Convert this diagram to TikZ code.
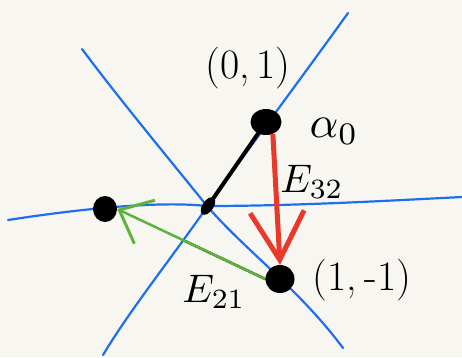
\documentclass[tikz,border=0pt]{standalone}
\usetikzlibrary{arrows.meta,shapes.geometric,calc}
\definecolor{paper}{HTML}{F8F6F1}
\definecolor{bluel}{HTML}{1E6FF0}
\definecolor{redarr}{HTML}{E8392B}
\definecolor{greenarr}{HTML}{5DB43C}
\tikzset{
  axisline/.style={bluel, line width=2.2bp, line cap=round},
  dotnode/.style={ellipse, fill=black, draw=none, inner sep=0pt},
  lbl/.style={inner sep=0pt, font=\fontsize{42}{46}\selectfont},
  elbl/.style={inner sep=0pt},
}
\begin{document}
\begin{tikzpicture}[x=1bp,y=-1bp]
\fill[paper] (0,0) rectangle (462,357);
\useasboundingbox (0,0) rectangle (462,357);
% blue lines
\draw[axisline] (82,49) .. controls (120,100) and (170,160) .. (207,206)
   .. controls (245,250) and (300,290) .. (343,348);
\draw[axisline] (348,13) .. controls (300,80) and (240,160) .. (207,207)
   .. controls (170,260) and (130,310) .. (103,355);
\draw[axisline] (8,220) .. controls (60,212) and (150,200) .. (207,206)
   .. controls (300,206) and (400,200) .. (462,197);
% dots
\node[dotnode, minimum width=20bp, minimum height=11bp, rotate=55] (ctr) at (208,206) {};
\node[dotnode, minimum width=31bp, minimum height=26bp] (top) at (266,122) {};
\node[dotnode, minimum width=24bp, minimum height=26bp] (left) at (105,209) {};
\node[dotnode, minimum width=29bp, minimum height=28bp] (bot) at (280,279) {};
% black segment
\draw[black, line width=4bp, line cap=round] (ctr) -- (top);
% black shadow along green
\draw[black, line width=2.5bp, line cap=round] (bot.west) -- ($(bot.west)!0.55!(left.east)$);
% red arrow
\draw[redarr, line width=5bp, -{Straight Barb[length=48bp, width=54bp, line width=5bp]}]
  (top.300) -- (bot.north);
% green arrow
\draw[greenarr, line width=2.5bp, -{Straight Barb[length=28bp, width=48bp, line width=3bp]}]
  (bot.west) -- (left.east);
% labels
\node[lbl] (l01) at (248,68) {(0,\,1)};
\node[elbl] (lal) at (334,131) {\scalebox{4.5}{$\alpha_0$}};
\node[elbl] (l32) at (312,182) {\scalebox{4}{$E_{32}$}};
\node[elbl] (l21) at (214,292) {\scalebox{4}{$E_{21}$}};
\node[lbl] (l11) at (362,280) {(1,\,-1)};
\end{tikzpicture}
\end{document}
